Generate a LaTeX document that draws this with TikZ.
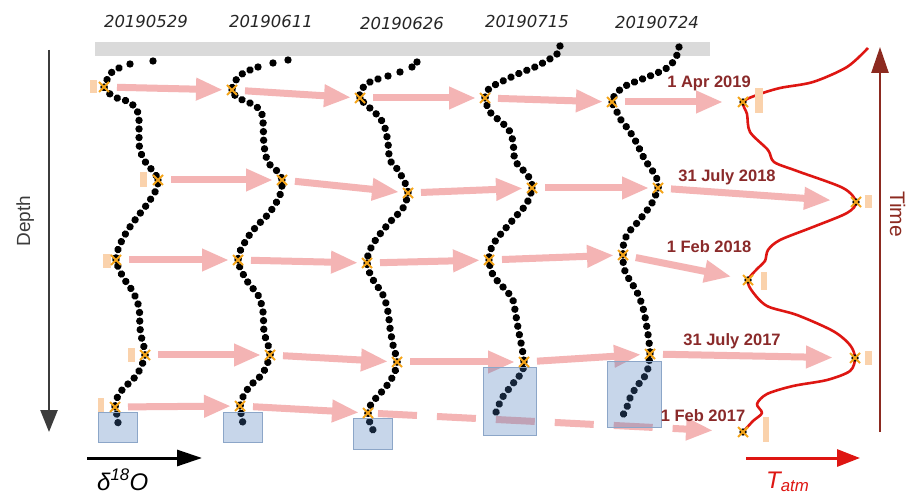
\documentclass[tikz,border=0pt]{standalone}
\usepackage{fontspec}
\setmainfont{Liberation Sans}
\newfontfamily\dvs{DejaVu Sans}
\usetikzlibrary{arrows.meta}
\definecolor{pinkc}{RGB}{244,180,180}
\definecolor{barg}{RGB}{218,218,218}
\definecolor{peach}{RGB}{250,210,172}
\definecolor{boxfill}{RGB}{72,122,188}
\definecolor{boxline}{RGB}{140,166,200}
\definecolor{labred}{RGB}{138,42,42}
\definecolor{curvered}{RGB}{222,22,18}
\definecolor{timered}{RGB}{140,42,32}
\definecolor{orangec}{RGB}{245,165,25}
\definecolor{axgray}{RGB}{60,60,60}
\begin{document}
\begin{tikzpicture}[x=1pt,y=-1pt,
  toplab/.style={font=\dvs\itshape\fontsize{16.5}{18}\selectfont, text=black!85, anchor=base, inner sep=0pt},
  datelab/.style={font=\bfseries\fontsize{16.5}{18}\selectfont, text=labred, anchor=base, inner sep=0pt},
  pinkarr/.style={draw=pinkc, line width=7pt, -{Triangle[length=27pt,width=21pt]}, shorten <=13pt, shorten >=9pt},
  pinkdash/.style={pinkarr, dash pattern=on 39pt off 20pt},
  prof/.style={draw=black, line width=7.4pt, line cap=round, dash pattern=on 0.01pt off 8.6pt},
  sdot/.style={fill=black},
  bluebox/.style={fill=boxfill, fill opacity=0.3, draw=boxline, line width=0.8pt},
  peachr/.style={fill=peach},
  xmk/.pic={\fill[black] (0,0) circle (3.7);
            \draw[orangec, line width=1.8pt] (-5,-5) -- (5,5) (-5,5) -- (5,-5);},
]
\useasboundingbox (0,0) rectangle (908,494);
\fill[white] (0,0) rectangle (908,494);

% grey bar
\fill[barg] (95,42) rectangle (710,56);

% top labels
\node[toplab] (d1) at (146,28) {20190529};
\node[toplab] (d2) at (271,28) {20190611};
\node[toplab] (d3) at (402,30) {20190626};
\node[toplab] (d4) at (527,28) {20190715};
\node[toplab] (d5) at (657,29) {20190724};

% marker coordinates
\coordinate (M11) at (104,87);  \coordinate (M12) at (158,180); \coordinate (M13) at (116,260);
\coordinate (M14) at (145,355); \coordinate (M15) at (115,407);
\coordinate (M21) at (232,90);  \coordinate (M22) at (282,180); \coordinate (M23) at (238,260);
\coordinate (M24) at (270,355); \coordinate (M25) at (240,406);
\coordinate (M31) at (360,98);  \coordinate (M32) at (408,193); \coordinate (M33) at (367,263);
\coordinate (M34) at (397,362); \coordinate (M35) at (368,413);
\coordinate (M41) at (485,98);  \coordinate (M42) at (532,188); \coordinate (M43) at (489,260);
\coordinate (M44) at (524,362);
\coordinate (M51) at (612,102); \coordinate (M52) at (658,188); \coordinate (M53) at (623,255);
\coordinate (M54) at (650,354);
\coordinate (T1) at (743,102); \coordinate (T2) at (856,202); \coordinate (T3) at (748,280);
\coordinate (T4) at (855,358); \coordinate (T5) at (743,432);

% pink arrows
\draw[pinkarr] (M11) -- (M21); \draw[pinkarr] (M21) -- (M31); \draw[pinkarr] (M31) -- (M41);
\draw[pinkarr] (M41) -- (M51); \draw[pinkarr, shorten >=20pt] (M51) -- (T1);
\draw[pinkarr] (M12) -- (M22); \draw[pinkarr] (M22) -- (M32); \draw[pinkarr] (M32) -- (M42);
\draw[pinkarr] (M42) -- (M52); \draw[pinkarr, shorten >=25pt] (M52) -- (T2);
\draw[pinkarr] (M13) -- (M23); \draw[pinkarr] (M23) -- (M33); \draw[pinkarr] (M33) -- (M43);
\draw[pinkarr] (M43) -- (M53); \draw[pinkarr, shorten >=17pt] (M53) -- (T3);
\draw[pinkarr] (M14) -- (M24); \draw[pinkarr] (M24) -- (M34); \draw[pinkarr] (M34) -- (M44);
\draw[pinkarr] (M44) -- (M54); \draw[pinkarr, shorten >=22pt] (M54) -- (T4);
\draw[pinkarr] (M15) -- (M25); \draw[pinkarr] (M25) -- (M35);
\draw[pinkdash, shorten <=10pt, shorten >=30pt] (M35) -- (T5);

% profiles
\fill[sdot] (153,61) circle (3.7); \fill[sdot] (130,64) circle (3.7);
\draw[prof] plot[smooth,tension=0.6] coordinates {(119,68) (112,72) (108,78) (104,87) (110,94) (117,98) (129,102) (137,110) (139,120) (139,135) (140,150) (146,163) (153,171) (158,180) (156,190) (148,203) (135,220) (126,233) (119,247) (116,260) (123,277) (133,292) (139,308) (140,328) (142,340) (145,355) (138,373) (130,382) (122,390) (117,398) (115,407) (117,415) (118,423)};

\fill[sdot] (288,60) circle (3.7); \fill[sdot] (273,63) circle (3.7); \fill[sdot] (258,67) circle (3.7);
\draw[prof] plot[smooth,tension=0.6] coordinates {(250,70) (242,74) (236,80) (232,90) (238,98) (248,102) (260,110) (263,122) (264,145) (268,162) (277,171) (282,180) (280,195) (270,212) (255,228) (245,242) (238,260) (247,281) (258,295) (263,312) (264,332) (268,345) (270,355) (263,373) (253,383) (245,393) (240,406) (242,417) (243,425)};

\fill[sdot] (417,62) circle (3.7); \fill[sdot] (412,67) circle (3.7); \fill[sdot] (400,72) circle (3.7); \fill[sdot] (388,76) circle (3.7);
\draw[prof] plot[smooth,tension=0.6] coordinates {(378,79) (368,83) (362,89) (360,98) (372,110) (380,118) (385,128) (388,143) (390,160) (398,170) (406,185) (408,193) (403,208) (390,222) (377,238) (370,250) (367,263) (372,278) (383,295) (388,312) (390,328) (393,345) (397,362) (393,376) (385,388) (376,398) (370,406) (368,413) (370,423) (373,430)};

\draw[prof] plot[smooth,tension=0.6] coordinates {(560,46) (557,54) (548,60) (535,67) (520,73) (505,80) (493,86) (487,91) (485,98) (490,112) (500,121) (509,130) (513,142) (515,160) (523,170) (530,179) (532,188) (527,203) (518,214) (505,229) (496,240) (491,249) (489,260) (493,275) (503,287) (512,298) (515,310) (517,322) (520,338) (522,348) (524,362) (522,372) (515,381) (508,390) (502,398) (498,407) (495,415)};

\draw[prof] plot[smooth,tension=0.6] coordinates {(679,47) (677,55) (674,61) (667,68) (657,73) (645,78) (632,83) (622,88) (615,95) (612,102) (617,112) (621,120) (628,129) (635,140) (640,150) (645,160) (652,170) (657,179) (658,188) (652,203) (645,213) (637,223) (629,232) (624,242) (623,255) (624,268) (629,279) (637,292) (643,308) (647,328) (649,342) (650,354) (647,372) (641,381) (635,389) (630,398) (627,407) (623,415)};

% atmospheric temperature curve
\draw[curvered, line width=2.6pt, line join=round] plot[smooth,tension=0.5] coordinates {(868,48) (847,67) (813,82) (780,88) (757,95) (743,102) (747,114) (750,132) (768,150) (774,162) (797,171) (843,188) (856,202) (847,213) (813,227) (780,240) (768,250) (765,261) (758,268) (748,280) (752,291) (767,306) (797,315) (833,331) (850,345) (855,358) (850,371) (827,380) (793,386) (767,394) (757,404) (762,413) (753,421) (743,432)};

% blue boxes
\filldraw[bluebox] (98,412) rectangle (137,442);
\filldraw[bluebox] (223,412) rectangle (262,442);
\filldraw[bluebox] (353,418) rectangle (392,449);
\filldraw[bluebox] (483,367) rectangle (536,435);
\filldraw[bluebox] (607,361) rectangle (661,427);

% peach rectangles
\fill[peachr] (90,80) rectangle (97,93);
\fill[peachr] (140,172) rectangle (147,187);
\fill[peachr] (103,254) rectangle (111,268);
\fill[peachr] (128,348) rectangle (135,362);
\fill[peachr] (98,398) rectangle (104,412);
\fill[peachr] (755,88) rectangle (763,113);
\fill[peachr] (865,195) rectangle (872,208);
\fill[peachr] (761,272) rectangle (767,290);
\fill[peachr] (865,351) rectangle (872,365);
\fill[peachr] (763,417) rectangle (769,442);

% markers
\foreach \m in {M11,M12,M13,M14,M15,M21,M22,M23,M24,M25,M31,M32,M33,M34,M35,M41,M42,M43,M44,M51,M52,M53,M54,T1,T2,T3,T4,T5}
  \pic at (\m) {xmk};

% date labels
\node[datelab] (l1) at (709,88) {1 Apr 2019};
\node[datelab] (l2) at (727,182) {31 July 2018};
\node[datelab] (l3) at (709,253) {1 Feb 2018};
\node[datelab] (l4) at (732,345) {31 July 2017};
\node[datelab] (l5) at (703,421) {1 Feb 2017};

% depth axis
\coordinate (dtop) at (49,50); \coordinate (dbot) at (49,432);
\draw[axgray, line width=2.5pt, -{Triangle[length=22pt,width=17pt]}] (dtop) -- (dbot);
\node[rotate=90, anchor=base, text=axgray, font=\fontsize{19}{21}\selectfont, inner sep=0pt] (depthlab) at (30,221) {Depth};

% time axis
\coordinate (tbot) at (880,432); \coordinate (ttop) at (880,47);
\draw[timered, line width=2.5pt, -{Triangle[length=26pt,width=17pt]}] (tbot) -- (ttop);
\node[rotate=-90, anchor=base, text=timered, font=\fontsize{21}{23}\selectfont, inner sep=0pt] (timelab) at (890,214) {Time};

% d18O axis
\coordinate (oa) at (87,458); \coordinate (ob) at (202,458);
\draw[black, line width=3pt, -{Triangle[length=25pt,width=16pt]}] (oa) -- (ob);
\node[anchor=base west, font=\itshape\fontsize{24}{26}\selectfont, inner sep=0pt] (olab) at (97,490) {δ\textsuperscript{18}O};

% Tatm axis
\coordinate (ta) at (746,458); \coordinate (tb) at (860,458);
\draw[curvered, line width=3pt, -{Triangle[length=23pt,width=17pt]}] (ta) -- (tb);
\node[anchor=base west, text=curvered, font=\itshape\fontsize{24}{26}\selectfont, inner sep=0pt] (tlab) at (766,488) {T\textsubscript{atm}};
\end{tikzpicture}
\end{document}
